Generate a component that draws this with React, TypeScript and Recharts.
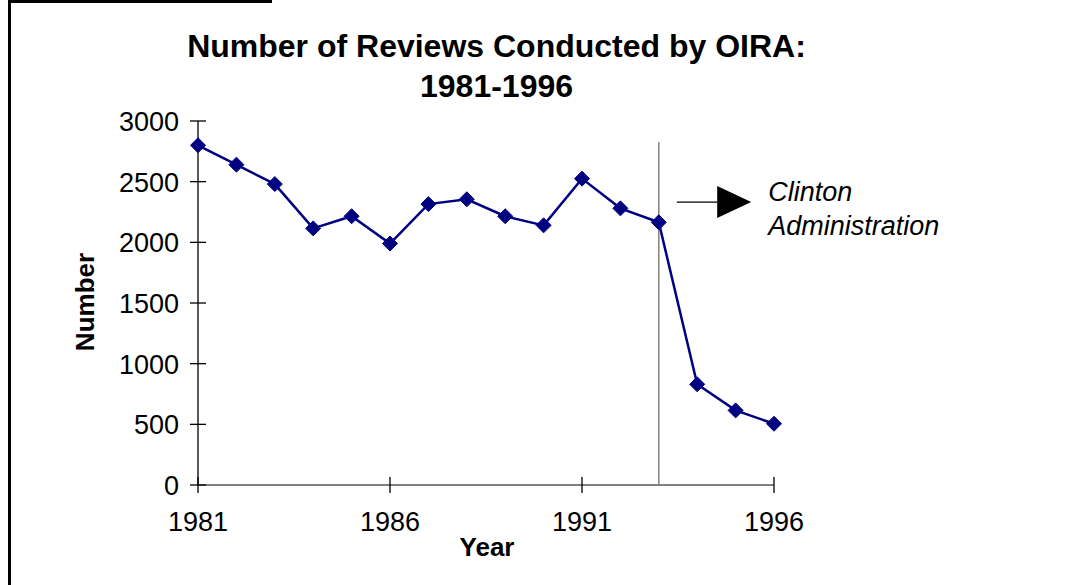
import {
  LineChart,
  Line,
  XAxis,
  YAxis,
  ReferenceLine,
} from 'recharts';

const years = [
  1981, 1982, 1983, 1984, 1985, 1986, 1987, 1988,
  1989, 1990, 1991, 1992, 1993, 1994, 1995, 1996,
];

const reviews = [
  2800, 2640, 2480, 2115, 2215, 1990, 2315, 2355,
  2215, 2140, 2525, 2280, 2165, 830, 615, 505,
];

const xTicks = [1981, 1986, 1991, 1996];
const yTicks = [0, 500, 1000, 1500, 2000, 2500, 3000];

const clintonYear = 1993;

const data = years.map((year, i) => ({
  year,
  reviews: reviews[i],
}));

const FONT = '"Liberation Sans", Arial, sans-serif';

function XTick(props: any) {
  const { x, y, payload } = props;
  return (
    <g>
      <line x1={x} x2={x} y1={y - 8} y2={y + 8} stroke="#000" strokeWidth={1.3} />
      <text
        x={x}
        y={y + 46}
        textAnchor="middle"
        fontSize={27}
        fontFamily={FONT}
        fill="#000"
      >
        {payload.value}
      </text>
    </g>
  );
}

function YTick(props: any) {
  const { x, y, payload } = props;
  return (
    <g>
      <line x1={x - 8} x2={x + 8} y1={y} y2={y} stroke="#000" strokeWidth={1.3} />
      <text
        x={x - 19}
        y={y + 10}
        textAnchor="end"
        fontSize={27}
        fontFamily={FONT}
        fill="#000"
      >
        {payload.value}
      </text>
    </g>
  );
}

function Diamond(props: any) {
  const { cx, cy } = props;
  if (cx == null || cy == null) return null;
  const r = 7.5;
  return (
    <polygon
      points={`${cx},${cy - r} ${cx + r},${cy} ${cx},${cy + r} ${cx - r},${cy}`}
      fill="#000080"
      stroke="#000080"
      strokeWidth={1}
    />
  );
}

function ArrowShape(props: any) {
  const { x1, y1, x2, y2 } = props;
  return (
    <g>
      <line x1={x1} y1={y1} x2={x2} y2={y2} stroke="#000" strokeWidth={1.3} />
      <polygon
        points={`${x2},${y2 - 16} ${x2 + 34},${y2} ${x2},${y2 + 16}`}
        fill="#000"
      />
      <text
        x={x2 + 51}
        y={y2 - 1}
        fontSize={27}
        fontStyle="italic"
        fontFamily={FONT}
        fill="#000"
      >
        Clinton
      </text>
      <text
        x={x2 + 51}
        y={y2 + 33}
        fontSize={27}
        fontStyle="italic"
        fontFamily={FONT}
        fill="#000"
      >
        Administration
      </text>
    </g>
  );
}

export default function App() {
  return (
    <div
      style={{
        position: 'absolute',
        left: 0,
        top: 0,
        width: 1086,
        height: 585,
        background: '#fff',
        fontFamily: FONT,
        overflow: 'hidden',
      }}
    >
      {/* frame bits */}
      <div
        style={{
          position: 'absolute',
          left: 8,
          top: 0,
          width: 3,
          height: 585,
          background: '#000',
        }}
      />
      <div
        style={{
          position: 'absolute',
          left: 8,
          top: 0,
          width: 264,
          height: 3,
          background: '#000',
        }}
      />

      <div
        style={{
          position: 'absolute',
          left: 0,
          top: 26,
          width: 993,
          textAlign: 'center',
          fontSize: 32,
          fontWeight: 'bold',
          lineHeight: '40px',
          color: '#000',
        }}
      >
        Number of Reviews Conducted by OIRA:
        <br />
        1981-1996
      </div>

      <div
        style={{
          position: 'absolute',
          left: 85,
          top: 302,
          transform: 'translate(-50%, -50%) rotate(-90deg)',
          fontSize: 26,
          fontWeight: 'bold',
          whiteSpace: 'nowrap',
        }}
      >
        Number
      </div>

      <div
        style={{
          position: 'absolute',
          left: 487,
          top: 547,
          transform: 'translate(-50%, -50%)',
          fontSize: 26,
          fontWeight: 'bold',
        }}
      >
        Year
      </div>

      <div style={{ position: 'absolute', left: 0, top: 0 }}>
        <LineChart
          width={1086}
          height={585}
          data={data}
          margin={{ top: 121, right: 312, bottom: 50, left: 98 }}
        >
          <XAxis
            dataKey="year"
            type="number"
            domain={[1981, 1996]}
            ticks={xTicks}
            interval={0}
            height={50}
            tickSize={0}
            tickMargin={0}
            tick={<XTick />}
            tickLine={false}
            axisLine={{ stroke: '#808080', strokeWidth: 2 }}
          />
          <YAxis
            type="number"
            domain={[0, 3000]}
            ticks={yTicks}
            interval={0}
            width={100}
            tickSize={0}
            tickMargin={0}
            tick={<YTick />}
            tickLine={false}
            axisLine={{ stroke: '#000', strokeWidth: 1.3 }}
          />
          <ReferenceLine
            segment={[
              { x: clintonYear, y: 0 },
              { x: clintonYear, y: 2825 },
            ]}
            stroke="#808080"
            strokeWidth={1.5}
          />
          <Line
            dataKey="reviews"
            stroke="#000080"
            strokeWidth={2.5}
            dot={<Diamond />}
            activeDot={false}
            isAnimationActive={false}
          />
          <ReferenceLine
            segment={[
              { x: 1993.47, y: 2332 },
              { x: 1994.52, y: 2332 },
            ]}
            shape={<ArrowShape />}
          />
        </LineChart>
      </div>
    </div>
  );
}
